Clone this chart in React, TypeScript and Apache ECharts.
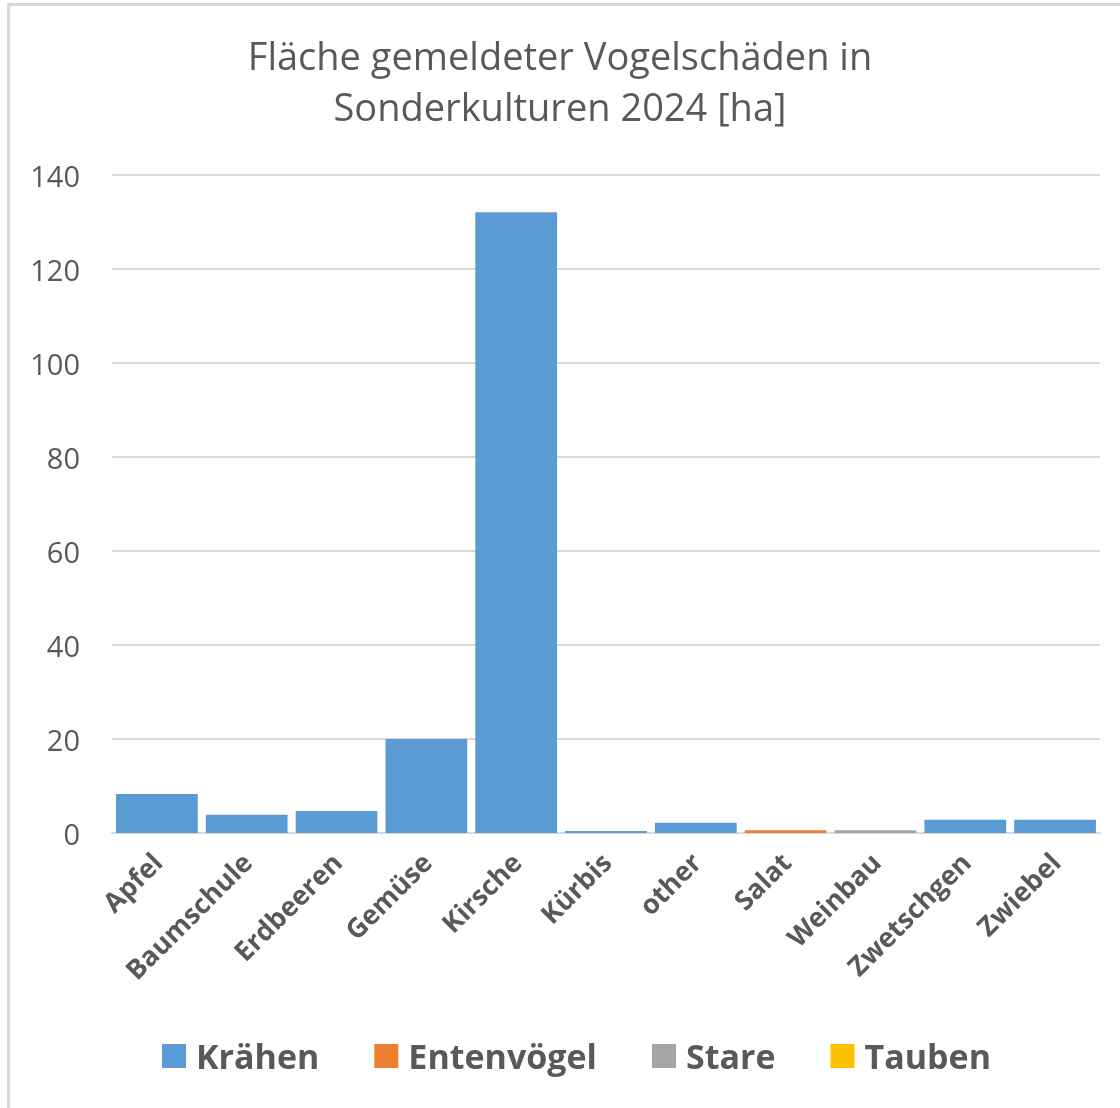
import React, { useEffect, useRef } from "react";
import * as echarts from "echarts";

const categories = ["Apfel", "Baumschule", "Erdbeeren", "Gemüse", "Kirsche", "Kürbis", "other", "Salat", "Weinbau", "Zwetschgen", "Zwiebel"];
const kraehen = [8.3, 3.9, 4.7, 20.0, 132.1, 0.4, 2.2, 0, 0, 2.8, 2.8];
const entenvoegel = [0, 0, 0, 0, 0, 0, 0, 0.6, 0, 0, 0];
const stare = [0, 0, 0, 0, 0, 0, 0, 0, 0.6, 0, 0];
const tauben = [0, 0, 0, 0, 0, 0, 0, 0, 0, 0, 0];
const seriesNames = ["Krähen", "Entenvögel", "Stare", "Tauben"];
const colors = ["#5B9BD5", "#ED7D31", "#A5A5A5", "#FFC000"];
const titleText = "Fläche gemeldeter Vogelschäden in\nSonderkulturen 2024 [ha]";

export default function App() {
  const ref = useRef<HTMLDivElement>(null);
  useEffect(() => {
    if (!ref.current) return;
    const chart = echarts.init(ref.current, undefined, { renderer: "svg" });
    const font = "'Open Sans', sans-serif";
    const data = [kraehen, entenvoegel, stare, tauben];
    chart.setOption({
      animation: false,
      color: colors,
      textStyle: { fontFamily: font },
      title: {
        text: titleText,
        left: "center",
        top: 24,
        textStyle: { fontFamily: font, fontSize: 38, fontWeight: "normal", color: "#595959", lineHeight: 51 },
      },
      graphic: [
        { type: "rect", shape: { x: 7, y: 4, width: 3, height: 1104 }, style: { fill: "#D9D9D9" } },
        { type: "rect", shape: { x: 7, y: 3, width: 1113, height: 3 }, style: { fill: "#D9D9D9" } },
      ],
      legend: {
        bottom: 30,
        left: 157,
        itemWidth: 24,
        itemHeight: 24,
        itemGap: 55,
        icon: "rect",
        data: seriesNames,
        textStyle: { fontFamily: font, fontSize: 34, fontWeight: "bold", color: "#595959", padding: [0, 0, 0, 5] },
      },
      grid: { left: 112, right: 20, top: 175, bottom: 275, containLabel: false },
      xAxis: {
        type: "category",
        data: categories,
        axisLine: { lineStyle: { color: "#D9D9D9", width: 2 } },
        axisTick: { show: false },
        axisLabel: {
          rotate: 45,
          interval: 0,
          margin: 24,
          fontFamily: font,
          fontSize: 27,
          fontWeight: "bold",
          color: "#595959",
        },
      },
      yAxis: {
        type: "value",
        min: 0,
        max: 140,
        interval: 20,
        axisLine: { show: false },
        axisTick: { show: false },
        splitLine: { lineStyle: { color: "#D9D9D9", width: 2 } },
        axisLabel: { margin: 32, fontFamily: font, fontSize: 29, color: "#595959" },
      },
      series: seriesNames.map((name, i) => ({
        name,
        type: "bar",
        stack: "total",
        barCategoryGap: "9%",
        data: data[i],
        itemStyle: { color: colors[i] },
      })),
    });
    return () => chart.dispose();
  }, []);
  return <div ref={ref} style={{ position: "fixed", left: 0, top: 0, width: 1120, height: 1108 }} />;
}
